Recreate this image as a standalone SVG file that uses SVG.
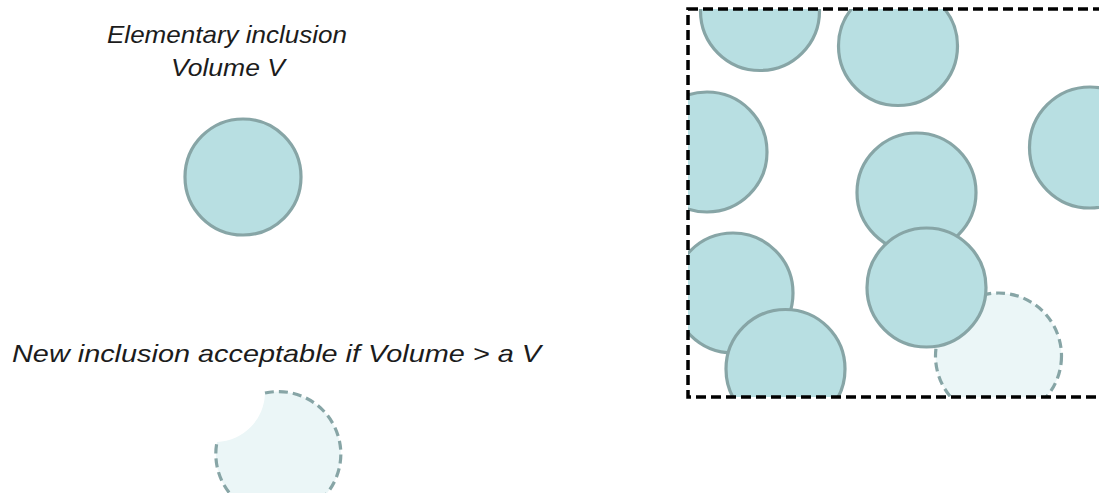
<svg xmlns="http://www.w3.org/2000/svg" width="1099" height="493" viewBox="0 0 1099 493">
  <style>
    .label { font-family: "Liberation Sans", "DejaVu Sans", sans-serif; font-style: italic; font-size: 24px; fill: #1c1c1c; }
    .incl { fill: #b8dfe2; stroke: #87a5a6; stroke-width: 3.2; }
    .cand { fill: #ebf6f7; stroke: #87a5a6; stroke-width: 3.2; stroke-dasharray: 9 5; }
    .frame { fill: none; stroke: #000; stroke-width: 3.5; stroke-dasharray: 10 5; }
  </style>
  <defs>
    <clipPath id="box">
      <rect x="688" y="9" width="430" height="388"/>
    </clipPath>
  </defs>
  <rect width="1099" height="493" fill="#fff"/>

  <!-- left: single elementary inclusion -->
  <g id="label-elementary">
    <text class="label" x="227" y="43" text-anchor="middle" textLength="240" lengthAdjust="spacingAndGlyphs">Elementary inclusion</text>
    <text class="label" x="228" y="76" text-anchor="middle" textLength="114" lengthAdjust="spacingAndGlyphs">Volume V</text>
  </g>
  <g id="elementary-inclusion">
    <circle class="incl" cx="243" cy="177" r="58"/>
  </g>

  <g id="label-acceptance">
    <text class="label" x="12" y="362" textLength="529" lengthAdjust="spacingAndGlyphs">New inclusion acceptable if Volume &gt; a V</text>
  </g>
  <!-- partially overlapped candidate: fill with a bite, dashed outline on the free arc only -->
  <g id="candidate-inclusion">
    <path d="M265 393 A62.5 62.5 0 1 1 217 442 A50 50 0 0 0 265 393 Z" fill="#ebf6f7"/>
    <path d="M265 393 A62.5 62.5 0 1 1 217 442" fill="none" stroke="#87a5a6" stroke-width="3.2" stroke-dasharray="9 5"/>
  </g>

  <!-- right: packed volume -->
  <g id="packing" clip-path="url(#box)">
    <g id="inc-1"><circle class="incl" cx="760" cy="11" r="59.5"/></g>
    <g id="inc-2"><circle class="incl" cx="898" cy="46" r="59.5"/></g>
    <g id="inc-3"><circle class="incl" cx="707" cy="152" r="60"/></g>
    <g id="inc-4"><circle class="incl" cx="1090" cy="147.5" r="60.5"/></g>
    <g id="inc-5"><circle class="incl" cx="916.5" cy="192.5" r="59.5"/></g>
    <g id="inc-new"><circle class="cand" cx="998.5" cy="356" r="63"/></g>
    <g id="inc-6"><circle class="incl" cx="926.5" cy="287.5" r="59.5"/></g>
    <g id="inc-7"><circle class="incl" cx="733" cy="293" r="60"/></g>
    <g id="inc-8"><circle class="incl" cx="785.5" cy="369" r="59.5"/></g>
  </g>
  <g id="volume-frame">
    <rect class="frame" x="688" y="9" width="430" height="388"/>
  </g>
</svg>
